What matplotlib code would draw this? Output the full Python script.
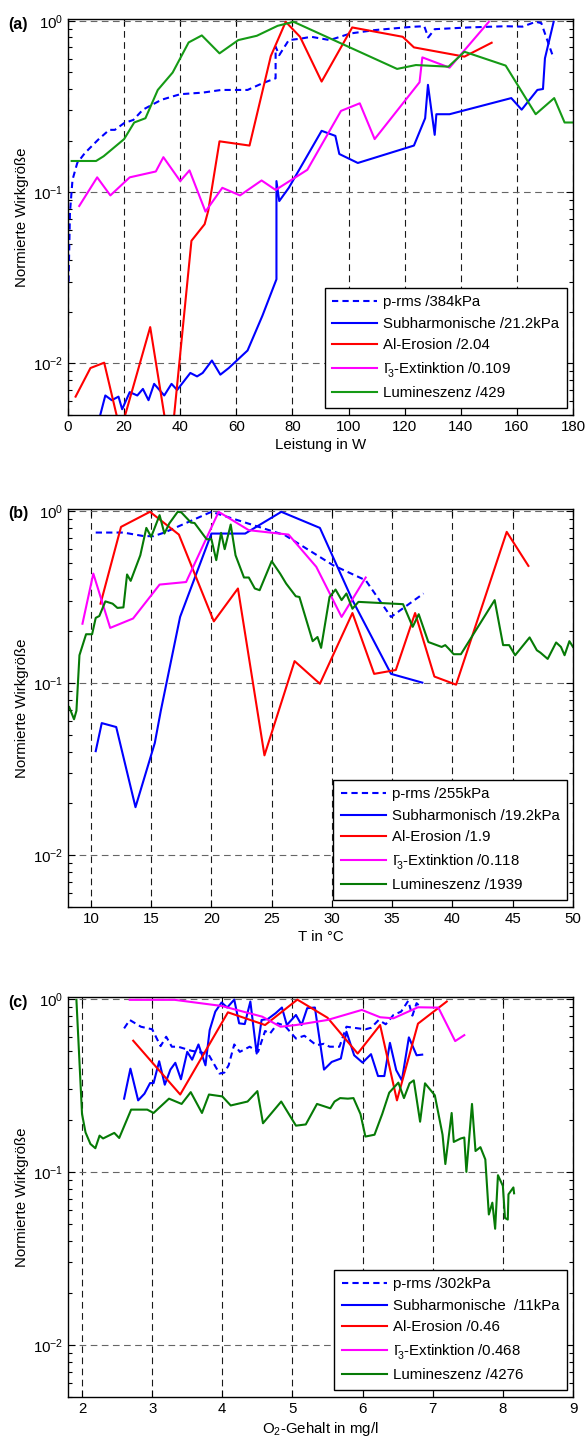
import matplotlib
matplotlib.use('Agg')
import matplotlib.pyplot as plt
from matplotlib.ticker import LogLocator, NullFormatter, MultipleLocator

plt.rcParams['font.family'] = ['Liberation Sans', 'DejaVu Sans']
plt.rcParams['font.size'] = 10.8
plt.rcParams['mathtext.fontset'] = 'custom'
plt.rcParams['mathtext.rm'] = 'Liberation Sans'
plt.rcParams['mathtext.it'] = 'Liberation Sans:italic'

# ---- panel (a): Leistung ----
a_prms_x = [0.2, 0.7, 1.6, 3.3, 6, 10.7, 14.7, 16.7, 20, 23.3, 26.7, 33.3, 40, 48, 54.7, 64, 69.3, 74, 74,
            75.3, 78.7, 82.7, 86.7, 93.3, 100.7, 109.3, 122.7, 127, 128.4, 130.7, 142.7, 156, 162, 166.7,
            168.7, 173.1]
a_prms_y = [0.03, 0.076, 0.118, 0.148, 0.169, 0.202, 0.231, 0.231, 0.253, 0.264, 0.303, 0.346, 0.373, 0.381,
            0.395, 0.395, 0.432, 0.462, 0.706, 0.631, 0.772, 0.786, 0.807, 0.772, 0.844, 0.883, 0.923, 0.93,
            0.80, 0.894, 0.915, 0.93, 0.925, 0.987, 0.97, 0.604]
a_sub_x = [10.3, 13.3, 15.6, 18, 19.3, 22, 24.7, 26.7, 28.7, 30.7, 34.3, 36.9, 38.9, 43.6, 46, 48, 51.3, 54.3,
           57.3, 64, 69.3, 74.3, 74.3, 75.3, 78.7, 90.4, 95.3, 96.7, 103.3, 123.3, 127.3, 128.3, 130.7, 131.3,
           136, 158, 161.7, 167.3, 169.3, 170, 173.1]
a_sub_y = [0.0042, 0.0065, 0.0061, 0.0064, 0.0054, 0.0068, 0.0065, 0.0071, 0.0061, 0.0076, 0.0065, 0.0076,
           0.0070, 0.0088, 0.0084, 0.0088, 0.0104, 0.0086, 0.0094, 0.0119, 0.019, 0.031, 0.116, 0.0887, 0.106,
           0.228, 0.213, 0.167, 0.148, 0.187, 0.27, 0.423, 0.216, 0.285, 0.285, 0.354, 0.303, 0.395, 0.40,
           0.604, 0.987]
a_al_x = [2.7, 8, 12.9, 18.7, 29.3, 36.5, 44, 48.7, 50, 54, 64.7, 72.3, 77.6, 82.7, 90.4, 101.3, 119.3, 123.3,
          141.3, 151]
a_al_y = [0.0064, 0.0094, 0.0101, 0.004, 0.0163, 0.003, 0.052, 0.065, 0.078, 0.198, 0.187, 0.623, 0.987, 0.807,
          0.442, 0.915, 0.807, 0.70, 0.618, 0.745]
a_gam_x = [4, 10.4, 15.1, 22, 31.3, 34, 40, 43.3, 49, 55, 61.3, 69, 74, 85.3, 97.3, 104, 109.3, 125.3, 126.3,
           136, 150]
a_gam_y = [0.083, 0.122, 0.0957, 0.122, 0.132, 0.16, 0.116, 0.134, 0.077, 0.106, 0.0957, 0.117, 0.103, 0.135,
           0.298, 0.33, 0.204, 0.438, 0.612, 0.533, 0.987]
a_lum_x = [1.3, 10, 12.7, 20, 23.6, 27.6, 32, 37.3, 43, 47.7, 54, 60.7, 67.3, 74.7, 80.4, 117.3, 124, 135.6,
           141.3, 156, 166.7, 173.3, 177, 180]
a_lum_y = [0.152, 0.152, 0.162, 0.204, 0.255, 0.27, 0.395, 0.499, 0.748, 0.822, 0.646, 0.772, 0.818, 0.935,
           0.987, 0.524, 0.552, 0.54, 0.66, 0.548, 0.285, 0.354, 0.255, 0.255]

# ---- panel (b): Temperatur ----
b_prms_x = [10.4, 12.7, 14.4, 15.2, 16.1, 20, 26.1, 30.1, 32.8, 34.9, 37.6]
b_prms_y = [0.748, 0.748, 0.713, 0.713, 0.748, 0.987, 0.722, 0.483, 0.395, 0.242, 0.331]
b_sub_x = [10.4, 10.9, 12.1, 13.7, 15.3, 15.8, 17.4, 20, 22.8, 25.8, 29, 31.7, 34.9, 37.5]
b_sub_y = [0.0402, 0.0585, 0.0555, 0.019, 0.0448, 0.069, 0.242, 0.738, 0.738, 0.987, 0.796, 0.303, 0.113, 0.1005]
b_al_x = [10.8, 12.5, 14.9, 17.3, 20.2, 22.2, 24.4, 26.9, 29, 31.7, 33.5, 35.3, 36.9, 38.5, 40.3, 44.5, 46.3]
b_al_y = [0.289, 0.807, 0.987, 0.728, 0.228, 0.354, 0.038, 0.134, 0.099, 0.255, 0.113, 0.119, 0.255, 0.109,
          0.0978, 0.755, 0.479]
b_gam_x = [9.3, 10.2, 11.6, 13.5, 15.7, 17.9, 20.6, 23.1, 26.4, 28.7, 30.8, 32.8]
b_gam_y = [0.221, 0.432, 0.209, 0.237, 0.373, 0.386, 0.987, 0.772, 0.728, 0.473, 0.242, 0.41]
b_lum_x = [8.2, 8.6, 8.8, 9.05, 9.6, 10.1, 10.4, 10.7, 11.2, 11.8, 12.2, 12.7, 13.0, 13.3, 14.1, 14.6, 15.0,
           15.7, 16.1, 16.5, 17.2, 17.5, 18.3, 18.6, 19.6, 20.0, 20.4, 20.8, 21.1, 21.6, 22.0, 22.7, 23.1, 23.6,
           24.0, 25.0, 25.7, 26.2, 27.0, 27.3, 28.4, 28.8, 29.1, 29.8, 30.3, 30.8, 31.2, 31.7, 32.2, 35.9, 36.7,
           37.2, 38.0, 39.1, 39.4, 39.7, 40.1, 40.7, 43.5, 44.2, 44.7, 45.2, 46.4, 47.0, 47.3, 47.9, 48.6, 49.0,
           49.3, 49.7, 50.0]
b_lum_y = [0.0725, 0.0616, 0.069, 0.145, 0.192, 0.192, 0.239, 0.245, 0.298, 0.289, 0.273, 0.275, 0.427, 0.392,
           0.552, 0.796, 0.706, 0.944, 0.738, 0.844, 0.987, 0.98, 0.855, 0.85, 0.684, 0.684, 0.517, 0.745, 0.599,
           0.833, 0.552, 0.41, 0.41, 0.354, 0.346, 0.51, 0.432, 0.378, 0.319, 0.316, 0.175, 0.185, 0.16, 0.316,
           0.349, 0.303, 0.331, 0.27, 0.296, 0.287, 0.212, 0.251, 0.173, 0.162, 0.166, 0.158, 0.147, 0.147,
           0.303, 0.166, 0.166, 0.145, 0.184, 0.155, 0.15, 0.138, 0.172, 0.162, 0.145, 0.175, 0.162]

# ---- panel (c): O2-Gehalt ----
c_prms_x = [2.6, 2.68, 2.84, 3.0, 3.12, 3.2, 3.28, 3.37, 3.56, 3.72, 3.8, 3.96, 4.03, 4.09, 4.17, 4.25, 4.39,
            4.51, 4.61, 4.68, 4.79, 4.89, 5.05, 5.17, 5.34, 5.45, 5.53, 5.67, 5.77, 5.88, 6.04, 6.12, 6.23,
            6.33, 6.44, 6.55, 6.65, 6.71, 6.77, 6.81]
c_prms_y = [0.675, 0.755, 0.69, 0.667, 0.533, 0.604, 0.529, 0.529, 0.501, 0.488, 0.48, 0.37, 0.375, 0.413,
            0.545, 0.494, 0.529, 0.494, 0.652, 0.63, 0.722, 0.70, 0.59, 0.612, 0.54, 0.55, 0.529, 0.529, 0.69,
            0.68, 0.667, 0.68, 0.755, 0.713, 0.807, 0.844, 0.973, 0.80, 0.944, 0.91]
c_sub_x = [2.6, 2.69, 2.8, 2.89, 2.97, 3.02, 3.1, 3.18, 3.26, 3.33, 3.41, 3.5, 3.57, 3.66, 3.76, 3.82, 3.9,
           3.99, 4.07, 4.17, 4.24, 4.32, 4.4, 4.49, 4.56, 4.65, 4.76, 4.85, 4.92, 5.05, 5.13, 5.21, 5.32, 5.45,
           5.56, 5.69, 5.77, 5.88, 6.0, 6.12, 6.22, 6.31, 6.39, 6.48, 6.56, 6.66, 6.77, 6.85]
c_sub_y = [0.265, 0.395, 0.259, 0.283, 0.326, 0.326, 0.436, 0.319, 0.39, 0.427, 0.343, 0.494, 0.445, 0.545,
           0.413, 0.66, 0.844, 0.953, 0.891, 0.99, 0.722, 0.715, 0.965, 0.483, 0.755, 0.765, 0.826, 0.891,
           0.706, 0.807, 0.706, 0.883, 0.891, 0.39, 0.432, 0.452, 0.646, 0.472, 0.428, 0.479, 0.358, 0.358,
           0.557, 0.387, 0.338, 0.599, 0.472, 0.476]
c_al_x = [2.73, 3.4, 4.08, 4.61, 5.07, 5.5, 5.93, 6.25, 6.49, 6.79, 7.2]
c_al_y = [0.573, 0.28, 0.836, 0.706, 0.99, 0.778, 0.483, 0.706, 0.259, 0.719, 0.965]
c_gam_x = [2.68, 3.32, 3.99, 4.57, 4.83, 5.05, 5.5, 5.99, 6.25, 6.44, 6.79, 7.08, 7.32, 7.45]
c_gam_y = [0.987, 0.987, 0.91, 0.789, 0.69, 0.706, 0.755, 0.863, 0.783, 0.772, 0.894, 0.89, 0.57, 0.617]
c_lum_x = [1.92, 2.0, 2.05, 2.12, 2.19, 2.25, 2.3, 2.46, 2.53, 2.7, 2.93, 3.02, 3.24, 3.42, 3.55, 3.71, 3.81,
           4.0, 4.12, 4.36, 4.5, 4.58, 4.84, 5.05, 5.19, 5.35, 5.54, 5.6, 5.68, 5.79, 5.87, 5.97, 6.04, 6.17,
           6.28, 6.38, 6.51, 6.59, 6.67, 6.73, 6.82, 6.89, 7.03, 7.14, 7.18, 7.27, 7.3, 7.4, 7.45, 7.48, 7.56,
           7.61, 7.68, 7.75, 7.8, 7.85, 7.89, 7.93, 8.0, 8.03, 8.07, 8.08, 8.15, 8.16]
c_lum_y = [0.987, 0.216, 0.169, 0.145, 0.137, 0.162, 0.156, 0.168, 0.157, 0.229, 0.229, 0.219, 0.265, 0.247,
           0.289, 0.219, 0.28, 0.273, 0.242, 0.255, 0.293, 0.191, 0.255, 0.185, 0.188, 0.247, 0.233, 0.255,
           0.267, 0.265, 0.267, 0.216, 0.16, 0.164, 0.216, 0.287, 0.328, 0.267, 0.325, 0.338, 0.195, 0.325,
           0.277, 0.164, 0.111, 0.219, 0.149, 0.156, 0.158, 0.1, 0.247, 0.132, 0.139, 0.118, 0.0567, 0.0664,
           0.0469, 0.0957, 0.083, 0.0542, 0.053, 0.0742, 0.0813, 0.0752]

i3 = r'$\mathrm{I}_3^{\!\!\!-}$'
labels_a = ['p-rms /384kPa', 'Subharmonische /21.2kPa', 'Al-Erosion /2.04',
            i3 + '-Extinktion /0.109', 'Lumineszenz /429']
labels_b = ['p-rms /255kPa', 'Subharmonisch /19.2kPa', 'Al-Erosion /1.9',
            i3 + '-Extinktion /0.118', 'Lumineszenz /1939']
labels_c = ['p-rms /302kPa', 'Subharmonische  /11kPa', 'Al-Erosion /0.46',
            i3 + '-Extinktion /0.468', 'Lumineszenz /4276']

fig = plt.figure(figsize=(5.86, 14.38), dpi=100)

left, width = 68 / 586, 505 / 586
panels = [
    dict(box=(left, 1 - 415 / 1438, width, 396 / 1438), tag='(a)', tag_y=24,
         xlim=(0, 180), xstep=20, xlabel='Leistung in W', labels=labels_a, green='#159a15',
         data=[(a_prms_x, a_prms_y), (a_sub_x, a_sub_y), (a_al_x, a_al_y), (a_gam_x, a_gam_y), (a_lum_x, a_lum_y)]),
    dict(box=(left, 1 - 907 / 1438, width, 398 / 1438), tag='(b)', tag_y=514,
         xlim=(8.1, 50), xstep=5, xlabel='T in °C', labels=labels_b, green='#067a06',
         data=[(b_prms_x, b_prms_y), (b_sub_x, b_sub_y), (b_al_x, b_al_y), (b_gam_x, b_gam_y), (b_lum_x, b_lum_y)]),
    dict(box=(left, 1 - 1397 / 1438, width, 400 / 1438), tag='(c)', tag_y=1002,
         xlim=(1.8, 9), xstep=1, xlabel=r'O$_2$-Gehalt in mg/l', labels=labels_c, green='#067a06',
         data=[(c_prms_x, c_prms_y), (c_sub_x, c_sub_y), (c_al_x, c_al_y), (c_gam_x, c_gam_y), (c_lum_x, c_lum_y)]),
]

for p in panels:
    ax = fig.add_axes(p['box'])
    colors = ['#0000ff', '#0000ff', '#ff0000', '#ff00ff', p['green']]
    styles = [(0, (3, 2)), '-', '-', '-', '-']
    for (xs, ys), c, ls, lab in zip(p['data'], colors, styles, p['labels']):
        ax.plot(xs, ys, color=c, linestyle=ls, linewidth=1.5, label=lab)

    ax.set_yscale('log')
    ax.set_ylim(0.005, 1.025)
    ax.set_xlim(*p['xlim'])
    ax.xaxis.set_major_locator(MultipleLocator(p['xstep']))
    ax.yaxis.set_major_locator(LogLocator(base=10, numticks=10))
    ax.yaxis.set_minor_locator(LogLocator(base=10, subs=range(2, 10), numticks=20))
    ax.yaxis.set_minor_formatter(NullFormatter())
    ax.tick_params(which='both', direction='in', top=True, right=True)
    ax.tick_params(which='major', length=5, width=0.8)
    ax.tick_params(which='minor', length=3, width=0.8)
    for s in ax.spines.values():
        s.set_linewidth(1.0)

    ax.xaxis.grid(True, linestyle=(0, (6, 4)), color='0.1', linewidth=0.8)
    ax.yaxis.grid(True, which='major', linestyle=(0, (6, 4)), color='0.4', linewidth=0.8)
    ax.set_axisbelow(True)

    ax.set_xlabel(p['xlabel'], labelpad=3)
    ax.set_ylabel('Normierte Wirkgröße', labelpad=3)

    leg = ax.legend(loc='lower right', bbox_to_anchor=(0.988, 0.018), borderaxespad=0,
                    fancybox=False, framealpha=1, edgecolor='k',
                    handlelength=3.0, handletextpad=0.4, labelspacing=0.5, borderpad=0.5)
    leg.get_frame().set_linewidth(1.0)

    fig.text(8 / 586, 1 - p['tag_y'] / 1438, p['tag'], fontsize=11.5, fontweight='bold',
             ha='left', va='center')

fig.savefig('out.png', dpi=100)
